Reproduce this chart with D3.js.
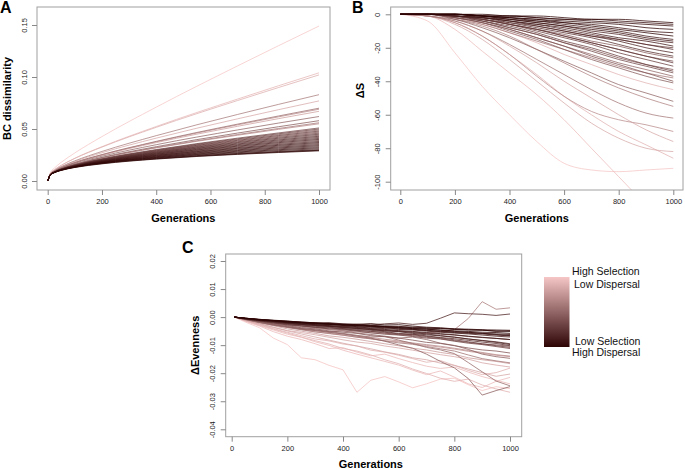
<!DOCTYPE html>
<html><head><meta charset="utf-8">
<script src="https://cdn.jsdelivr.net/npm/d3@7"></script>
<style>
body{margin:0;background:#fff}
text{font-family:"Liberation Sans",Arial,Helvetica,sans-serif}
</style>
</head><body>
<svg id="c" width="685" height="470"></svg>
<script>
// ---------- DATA ----------
const genTicks = [0, 200, 400, 600, 800, 1000];

// Panel A: BC dissimilarity
const genA = [0, 10, 25, 50, 100, 200, 400, 700, 1000];
const bcSeries = [
  [0,.0081,.0125,.018,.027,.0427,.071,.1107,.149],
  [0,.0073,.0109,.0151,.0219,.033,.0524,.0788,.104],
  [0,.0073,.0108,.015,.0217,.0326,.0516,.0774,.102],
  [0,.0069,.0101,.0138,.0194,.0284,.0436,.064,.083],
  [0,.0068,.0099,.0135,.0188,.0272,.0412,.0598,.077],
  [0,.0066,.0095,.0128,.0178,.0254,.0381,.0547,.070],
  [0,.0066,.0095,.0128,.0177,.0252,.0377,.054,.069],
  [0,.0065,.0094,.0127,.0175,.0248,.0369,.0526,.067],
  [0,.0065,.0093,.0124,.017,.0238,.0349,.0491,.062],
  [0,.0063,.009,.0119,.0162,.0227,.033,.0461,.058],
  [0,.0063,.0089,.0118,.016,.0223,.0322,.0447,.056],
  [0,.0062,.0089,.0118,.0159,.0221,.0318,.044,.055],
  [0,.0062,.0088,.0116,.0155,.0213,.0302,.0412,.051],
  [0,.0062,.0088,.0115,.0154,.0211,.0298,.0405,.050],
  [0,.0062,.0087,.0115,.0153,.0209,.0294,.0398,.049],
  [0,.0062,.0087,.0114,.0152,.0207,.029,.0391,.048],
  [0,.0062,.0087,.0114,.0151,.0205,.0286,.0384,.047],
  [0,.0062,.0086,.0113,.015,.0203,.0282,.0377,.046],
  [0,.0062,.0086,.0113,.0149,.0201,.0278,.037,.045],
  [0,.0061,.0086,.0112,.0148,.0199,.0274,.0363,.044],
  [0,.0061,.0086,.0112,.0147,.0197,.027,.0356,.043],
  [0,.0061,.0086,.0111,.0146,.0195,.0266,.0349,.042],
  [0,.0061,.0085,.0111,.0145,.0193,.0262,.0342,.041],
  [0,.0061,.0085,.011,.0144,.0191,.0258,.0335,.040],
  [0,.0061,.0085,.011,.0143,.0189,.0254,.0328,.039],
  [0,.0061,.0085,.0109,.0142,.0187,.025,.0321,.038],
  [0,.006,.0084,.0109,.0141,.0185,.0246,.0314,.037],
  [0,.006,.0084,.0108,.014,.0183,.0242,.0307,.036],
  [0,.006,.0084,.0108,.0139,.0181,.0238,.030,.035],
  [0,.006,.0083,.0107,.0138,.0179,.0234,.0293,.034],
  [0,.006,.0083,.0107,.0137,.0177,.023,.0286,.033],
  [0,.006,.0083,.0106,.0136,.0175,.0226,.0279,.032],
  [0,.006,.0083,.0106,.0135,.0173,.0222,.0272,.031],
  [0,.006,.0083,.0105,.0134,.0171,.0218,.0265,.030],
  [0,.0059,.0081,.0103,.0132,.0168,.0214,.026,.0295],
  [0,.0058,.008,.0102,.013,.0165,.0211,.0256,.029]
];
// selection level (1 = high selection / low dispersal, 0 = low selection / high dispersal)
const bcLevel = [1,.92,.88,.62,.85,.55,.7,.8,.5,.45,.6,.7,.35,.3,.45,.25,.4,.3,.2,.35,.15,.25,.2,.1,.3,.15,.05,.2,.1,.05,.15,0,.1,.05,0,.02];
const bcTicks = [0, 0.05, 0.10, 0.15];
const bcTickLabels = ["0.00", "0.05", "0.10", "0.15"];

// Panel B: change in richness
const genB = [0, 100, 200, 300, 400, 500, 600, 700, 800, 900, 1000];
const dsSeries = [
  [0,-4,-23,-43,-60,-76,-89,-93,-94,-93,-92],
  [0,-1,-9,-22,-35,-48,-63,-80,-97,-114,-131],
  [0,-1,-5,-13,-24,-36,-49,-60,-70,-78,-86],
  [0,-1,-6,-15,-27,-40,-53,-65,-74,-80,-82],
  [0,-1,-4,-10,-19,-29,-40,-50,-60,-69,-76],
  [0,-1,-5,-13,-24,-37,-49,-58,-63,-66,-70],
  [0,-1,-4,-10,-18,-27,-36,-45,-53,-59,-62],
  [0,0,-3,-7,-13,-21,-29,-37,-44,-50,-55],
  [0,0,-3,-8,-14,-21,-28,-35,-42,-47,-52],
  [0,0,-2,-6,-11,-17,-24,-30,-36,-41,-45],
  [0,0,-2,-5,-10,-15,-21,-27,-32,-37,-41],
  [0,0,-2,-5,-9,-14,-19,-25,-30,-35,-40],
  [0,0,-2,-5,-9,-14,-19,-24,-29,-33,-37],
  [0,0,-1,-4,-8,-12,-17,-22,-27,-31,-35],
  [0,0,-1,-4,-7,-11,-16,-20,-25,-30,-34],
  [0,0,-2,-4,-8,-12,-17,-21,-26,-30,-33],
  [0,0,-1,-3,-6,-10,-14,-18,-23,-27,-31],
  [0,0,-1,-3,-6,-9,-13,-17,-21,-25,-29],
  [0,0,-1,-3,-6,-9,-13,-17,-21,-25,-28],
  [0,0,-1,-2,-5,-8,-11,-14,-18,-22,-25],
  [0,0,-1,-2,-4,-7,-10,-13,-16,-20,-23],
  [0,0,-1,-2,-4,-6,-9,-12,-15,-18,-21],
  [0,0,-1,-2,-4,-6,-8,-11,-14,-16,-19],
  [0,0,0,-2,-3,-5,-7,-10,-12,-15,-17],
  [0,0,0,-1,-3,-5,-7,-9,-11,-14,-16],
  [0,0,0,-1,-3,-4,-6,-8,-10,-13,-15],
  [0,0,0,-1,-2,-4,-5,-7,-9,-11,-13],
  [0,0,0,-1,-2,-3,-5,-6,-8,-10,-11],
  [0,0,0,-1,-2,-3,-4,-5,-6,-8,-9],
  [0,0,0,-1,-1,-2,-3,-4,-5,-6,-7],
  [0,0,0,0,-1,-1,-2,-3,-3,-4,-5],
  [0,0,0,-1,-1,-2,-3,-3,-4,-5,-6],
  [0,0,-1,-3,-5,-7,-10,-13,-15,-18,-20],
  [0,0,-1,-3,-6,-9,-12,-16,-19,-23,-26],
  [0,-1,-3,-6,-11,-16,-21,-26,-31,-35,-38]
];
const dsLevel = [1,.95,.9,.85,.85,.7,.6,.65,.5,.9,.45,.4,.5,.35,.3,.4,.3,.25,.35,.2,.15,.2,.1,.15,.05,.1,0,.05,0,.02,0,.05,.3,.45,.6];
const dsTicks = [0, -20, -40, -60, -80, -100];
const dsTickLabels = ["0", "-20", "-40", "-60", "-80", "-100"];

// Panel C: change in evenness
const genC = [10,50,100,150,200,250,300,350,400,450,500,550,600,650,700,750,800,850,900,950,1000];
const deSeries = [
  [0,-.0004,-.0009,-.0012,-.0015,-.0019,-.0021,-.0024,-.0027,-.0028,-.0031,-.0034,-.0035,-.0038,-.004,-.0041,-.0044,-.0046,-.0047,-.0049,-.0051],
  [0,-.0005,-.001,-.0014,-.0018,-.0021,-.0025,-.0027,-.003,-.0034,-.0036,-.0038,-.0042,-.0044,-.0047,-.005,-.0053,-.0055,-.0058,-.006,-.0062],
  [0,-.0005,-.0011,-.0015,-.002,-.0024,-.0027,-.0031,-.0034,-.0037,-.0041,-.0044,-.0048,-.0051,-.0055,-.0059,-.0063,-.0068,-.0072,-.0076,-.008],
  [0,-.0004,-.0009,-.0013,-.0017,-.002,-.0022,-.0026,-.0028,-.0031,-.0033,-.0035,-.0037,-.0041,-.0043,-.0046,-.0049,-.0051,-.0054,-.0055,-.0058],
  [0,-.0006,-.0012,-.0016,-.0021,-.0026,-.003,-.0033,-.0037,-.004,-.0045,-.0049,-.0052,-.0058,-.0063,-.0067,-.0072,-.0078,-.0084,-.009,-.0098],
  [0,-.0005,-.001,-.0013,-.0017,-.0021,-.0024,-.0025,-.0029,-.003,-.0034,-.0036,-.004,-.0043,-.0048,-.0052,-.0055,-.0058,-.006,-.0064,-.0067],
  [0,-.0006,-.0012,-.0017,-.0023,-.0027,-.003,-.0032,-.0038,-.0041,-.0043,-.0048,-.0051,-.0055,-.006,-.0066,-.0071,-.0078,-.0083,-.0088,-.0095],
  [0,-.0004,-.0008,-.0012,-.0015,-.0017,-.0021,-.002,-.0024,-.0026,-.0023,-.0028,-.0027,-.0032,-.0036,-.0038,-.0042,-.0045,-.0046,-.0051,-.0049],
  [0,-.0006,-.0013,-.0019,-.0024,-.0028,-.0033,-.0036,-.0041,-.0044,-.0047,-.0052,-.0058,-.0061,-.0067,-.0073,-.0077,-.0083,-.0089,-.0094,-.0102],
  [0,-.0005,-.0011,-.0016,-.002,-.0023,-.0027,-.003,-.0033,-.0035,-.0039,-.0041,-.0044,-.0046,-.005,-.0054,-.0057,-.006,-.0064,-.0068,-.0071],
  [0,-.0007,-.0014,-.002,-.0026,-.0031,-.0036,-.0038,-.0043,-.0048,-.0051,-.0054,-.006,-.0063,-.0069,-.0074,-.0081,-.0088,-.0095,-.0102,-.0108],
  [0,-.0005,-.001,-.0014,-.0018,-.002,-.0024,-.0022,-.0027,-.0025,-.0028,-.0024,-.0021,-.0026,-.0022,-.0004,.0015,.0012,.001,.0006,.0011],
  [0,-.0005,-.0009,-.0013,-.0016,-.0019,-.0022,-.0024,-.0027,-.003,-.0031,-.0034,-.0038,-.004,-.0043,-.0047,-.0051,-.0054,-.0058,-.0062,-.0066],
  [0,-.0007,-.0015,-.0021,-.0027,-.0032,-.0036,-.0042,-.0045,-.005,-.0056,-.0061,-.0064,-.0069,-.0075,-.0078,-.0086,-.0093,-.0098,-.0105,-.0112],
  [0,-.0004,-.0008,-.0011,-.0014,-.0018,-.002,-.0023,-.0025,-.0027,-.0029,-.0032,-.0033,-.0036,-.0038,-.004,-.0042,-.0043,-.0045,-.0046,-.0047],
  [0,-.0006,-.0012,-.0017,-.0022,-.0026,-.0029,-.0034,-.0036,-.004,-.0044,-.0046,-.005,-.0053,-.0057,-.0061,-.0064,-.0069,-.0073,-.0076,-.008],
  [0,-.0007,-.0016,-.0024,-.0031,-.0038,-.0042,-.0049,-.0054,-.0058,-.0066,-.007,-.0075,-.0082,-.009,-.0094,-.0102,-.011,-.0117,-.0121,-.0128],
  [0,-.0008,-.0018,-.0027,-.0034,-.0041,-.0045,-.0052,-.0049,-.0057,-.0062,-.0068,-.0075,-.0071,-.008,-.0093,-.0101,-.0115,-.0132,-.0141,-.0147],
  [0,-.0008,-.0017,-.0026,-.0035,-.0041,-.0046,-.0052,-.0058,-.0065,-.0071,-.0069,-.0082,-.0094,-.0108,-.0117,-.013,-.0162,-.0195,-.0228,-.0245],
  [0,-.0008,-.0019,-.0028,-.0035,-.0043,-.0048,-.0054,-.006,-.0068,-.0075,-.0086,-.0099,-.0111,-.0132,-.0158,-.0181,-.0219,-.0278,-.0262,-.0248],
  [0,-.0007,-.0014,-.0021,-.0028,-.0032,-.0037,-.0042,-.0041,-.0047,-.0051,-.0057,-.0063,-.0066,-.0072,-.0077,-.0084,-.009,-.0096,-.0099,-.0104],
  [0,-.0009,-.0019,-.0029,-.0037,-.0045,-.0053,-.0058,-.0064,-.0072,-.0077,-.0085,-.0092,-.0097,-.0105,-.0113,-.0121,-.0135,-.0148,-.0156,-.0163],
  [0,-.0008,-.0016,-.0024,-.003,-.0036,-.004,-.0045,-.0049,-.0053,-.0056,-.0058,-.0061,-.0062,-.0058,-.0052,-.0045,-.0005,.0055,.0028,.0033],
  [0,-.0018,-.0038,-.0075,-.0098,-.0145,-.0152,-.0172,-.0188,-.0268,-.0225,-.0212,-.0231,-.0252,-.0238,-.0221,-.0218,-.0241,-.0262,-.0248,-.0255],
  [0,-.0015,-.0032,-.0052,-.0068,-.008,-.0095,-.0112,-.0109,-.0125,-.0138,-.0132,-.0148,-.0162,-.0175,-.0183,-.0178,-.0196,-.0212,-.0225,-.0238],
  [0,-.0012,-.0026,-.0041,-.0054,-.0066,-.0078,-.0085,-.0096,-.0103,-.0118,-.0125,-.0136,-.0148,-.0161,-.0155,-.0172,-.019,-.0205,-.0198,-.0182],
  [0,-.0011,-.0023,-.0036,-.0048,-.0055,-.0063,-.0072,-.0081,-.0089,-.0094,-.0103,-.011,-.0118,-.0126,-.0134,-.0141,-.015,-.0163,-.0171,-.0178],
  [0,-.001,-.0021,-.0031,-.0042,-.005,-.0058,-.0067,-.0072,-.0079,-.0087,-.0095,-.0102,-.0111,-.0117,-.0126,-.0133,-.0145,-.0152,-.0158,-.0166],
  [0,-.0013,-.0028,-.0043,-.0057,-.0071,-.0084,-.0096,-.0112,-.0121,-.0135,-.0152,-.0166,-.0185,-.0201,-.0218,-.0229,-.0221,-.0242,-.0256,-.0268],
  [0,-.0009,-.0019,-.0029,-.0037,-.0044,-.0052,-.0059,-.0065,-.0071,-.0078,-.0084,-.0088,-.0095,-.0101,-.0107,-.0114,-.0122,-.0129,-.0136,-.0141],
  [0,-.0014,-.003,-.0046,-.0061,-.0072,-.0088,-.0101,-.0118,-.0132,-.0145,-.0158,-.0171,-.0189,-.0205,-.0192,-.0214,-.0238,-.0251,-.0229,-.0215],
  [0,-.0009,-.0018,-.0027,-.0035,-.0042,-.0048,-.0055,-.006,-.0066,-.0073,-.0079,-.0085,-.0092,-.0098,-.0104,-.0111,-.0119,-.0126,-.0134,-.0139],
  [0,-.0011,-.0024,-.0037,-.0049,-.006,-.0071,-.0082,-.0093,-.0103,-.0113,-.0124,-.0133,-.0145,-.0152,-.0164,-.0172,-.0185,-.0198,-.0211,-.0203]
];
const deLevel = [0,.05,.1,0,.15,.1,.2,.05,.25,.15,.3,.2,.1,.35,.05,.25,.45,.5,.55,.5,.4,.6,.65,1,.95,.9,.85,.8,.9,.75,.95,.7,.85];
const deTicks = [0.02, 0.01, 0, -0.01, -0.02, -0.03, -0.04];
const deTickLabels = ["0.02", "0.01", "0.00", "-0.01", "-0.02", "-0.03", "-0.04"];

const legendTop = ["High Selection", "Low Dispersal"];
const legendBottom = ["Low Selection", "High Dispersal"];

// ---------- DRAWING ----------
const svg = d3.select("#c");
const darkCol = "#2e0505", lightCol = "#f6c6c6";
const color = d3.scaleLinear().domain([0, 1]).range([darkCol, lightCol]).interpolate(d3.interpolateRgb);

function panel(o) {
  const g = svg.append("g");
  const [bl, bt, br, bb] = o.box;
  const x = d3.scaleLinear().domain([0, 1000]).range(o.xr);
  const y = d3.scaleLinear().domain(o.yd).range(o.yr);
  const cid = "clip" + o.letter;
  svg.append("clipPath").attr("id", cid).append("rect")
    .attr("x", bl).attr("y", bt).attr("width", br - bl).attr("height", bb - bt);
  const line = d3.line().x((d, i) => x(o.gens[i])).y(d => y(d)).curve(o.curve);
  const order = d3.range(o.series.length).sort((a, b) => o.level[b] - o.level[a]);
  g.append("g").attr("clip-path", `url(#${cid})`)
    .selectAll("path").data(order).join("path")
    .attr("d", i => line(o.series[i]))
    .attr("fill", "none")
    .attr("stroke", i => color(o.level[i]))
    .attr("stroke-width", o.sw)
    .attr("stroke-opacity", 0.9);
  g.append("rect").attr("x", bl).attr("y", bt).attr("width", br - bl).attr("height", bb - bt)
    .attr("fill", "none").attr("stroke", "#a0a0a0").attr("stroke-width", 1);

  const xa = g.append("g").attr("transform", `translate(0,${bb})`)
    .call(d3.axisBottom(x).tickValues(genTicks).tickSize(5).tickPadding(4).tickFormat(d3.format("d")));
  const ya = g.append("g").attr("transform", `translate(${bl},0)`)
    .call(d3.axisLeft(y).tickValues(o.yt).tickSize(5).tickFormat((d, i) => o.yl[i]));
  [xa, ya].forEach(a => {
    a.select(".domain").remove();
    a.selectAll(".tick line").attr("stroke", "#888");
    a.selectAll(".tick text").attr("fill", "#222").style("font-size", "7.5px");
  });
  ya.selectAll(".tick text").attr("transform", "rotate(-90)")
    .attr("x", 0).attr("y", -10.5).attr("dy", null).attr("text-anchor", "middle");

  g.append("text").attr("x", (o.xr[0] + o.xr[1]) / 2).attr("y", bb + 31.5)
    .attr("text-anchor", "middle").style("font-size", "11px").style("font-weight", "bold").text("Generations");
  g.append("text").attr("transform", `translate(${bl - 26.5},${(bt + bb) / 2 + o.ty}) rotate(-90)`)
    .attr("text-anchor", "middle").style("font-size", "11px").style("font-weight", "bold").text(o.ytitle);
  g.append("text").attr("x", o.lp[0]).attr("y", o.lp[1])
    .style("font-size", "16px").style("font-weight", "bold").text(o.letter);
}

panel({letter: "A", lp: [0, 13], box: [37, 7, 330, 190], xr: [47.7, 319], yd: [0, 0.15], yr: [181, 25],
  gens: genA, series: bcSeries, level: bcLevel, yt: bcTicks, yl: bcTickLabels, ty: 0, sw: 0.85,
  ytitle: "BC dissimilarity", curve: d3.curveMonotoneX});
panel({letter: "B", lp: [352, 12.5], box: [390.7, 7, 683, 190], xr: [400.3, 673.3], yd: [0, -100], yr: [14.3, 181.7],
  gens: genB, series: dsSeries, level: dsLevel, yt: dsTicks, yl: dsTickLabels, ty: -8, sw: 0.85,
  ytitle: "\u0394S", curve: d3.curveMonotoneX});
panel({letter: "C", lp: [182, 253], box: [225.7, 254, 521.7, 436.7], xr: [231.7, 510], yd: [0.02, -0.04], yr: [261, 429.3],
  gens: genC, series: deSeries, level: deLevel, yt: deTicks, yl: deTickLabels, ty: 0, sw: 0.9,
  ytitle: "\u0394Evenness", curve: d3.curveLinear});

// legend
const defs = svg.append("defs");
const grad = defs.append("linearGradient").attr("id", "lg").attr("x1", 0).attr("y1", 0).attr("x2", 0).attr("y2", 1);
d3.range(0, 1.01, 0.1).forEach(t => grad.append("stop").attr("offset", t).attr("stop-color", color(1 - t)));
svg.append("rect").attr("x", 544).attr("y", 277).attr("width", 25.5).attr("height", 70).attr("fill", "url(#lg)");
const lg = svg.append("g").style("font-size", "10.5px").attr("fill", "#111");
lg.append("text").attr("x", 572).attr("y", 275).text(legendTop[0]);
lg.append("text").attr("x", 574).attr("y", 287.5).text(legendTop[1]);
lg.append("text").attr("x", 575).attr("y", 344.5).text(legendBottom[0]);
lg.append("text").attr("x", 572).attr("y", 356).text(legendBottom[1]);
</script>
</body></html>
